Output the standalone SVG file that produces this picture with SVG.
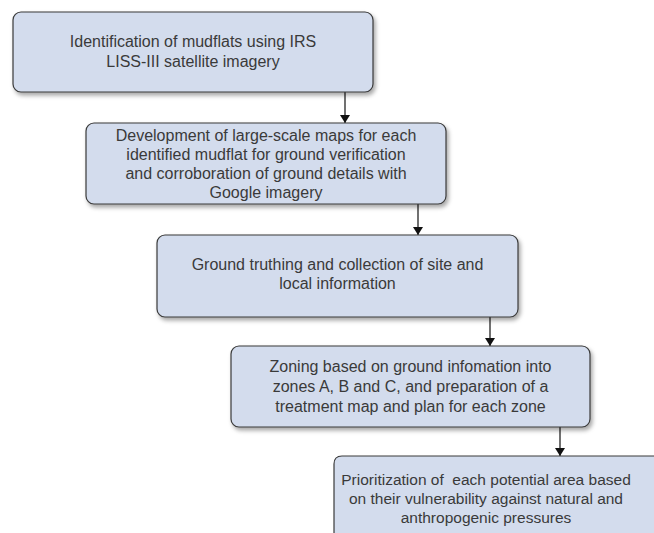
<svg xmlns="http://www.w3.org/2000/svg" width="654" height="533" viewBox="0 0 654 533">
<defs>
<filter id="sh" x="-10%" y="-20%" width="125%" height="150%">
<feDropShadow dx="2" dy="3" stdDeviation="2" flood-color="#000" flood-opacity="0.35"/>
</filter>
<marker id="ah" markerWidth="8" markerHeight="10" refX="8" refY="5" orient="auto" markerUnits="userSpaceOnUse" viewBox="0 0 8 10">
<path d="M0,0 L8,5 L0,10 Z" fill="#111"/>
</marker>
<style>
.box{fill:#d3dced;stroke:#3a3a3a;stroke-width:1.2}
.t{font-family:"Liberation Sans",Arial,sans-serif;font-size:16px;fill:#3a3a3a;text-anchor:middle;white-space:pre}
.t5{font-size:15.5px}
.c{stroke:#111;stroke-width:1.2;fill:none;marker-end:url(#ah)}
</style>
</defs>
<rect width="654" height="533" fill="#fff"/>
<g id="connectors">
<line class="c" x1="345" y1="92" x2="345" y2="123"/>
<line class="c" x1="418" y1="204" x2="418" y2="235"/>
<line class="c" x1="490" y1="317" x2="490" y2="346"/>
<line class="c" x1="560" y1="427" x2="560" y2="456"/>
</g>
<g id="n1">
<rect class="box" x="13" y="12" width="360" height="80" rx="8" filter="url(#sh)"/>
<text class="t" x="193" y="47">Identification of mudflats using IRS</text>
<text class="t" x="193" y="67">LISS-III satellite imagery</text>
</g>
<g id="n2">
<rect class="box" x="86" y="123" width="360" height="81" rx="8" filter="url(#sh)"/>
<text class="t" x="266" y="141">Development of large-scale maps for each</text>
<text class="t" x="266" y="160">identified mudflat for ground verification</text>
<text class="t" x="266" y="179">and corroboration of ground details with</text>
<text class="t" x="266" y="198">Google imagery</text>
</g>
<g id="n3">
<rect class="box" x="157" y="235" width="361" height="82" rx="8" filter="url(#sh)"/>
<text class="t" x="337.5" y="270">Ground truthing and collection of site and</text>
<text class="t" x="337.5" y="289">local information</text>
</g>
<g id="n4">
<rect class="box" x="231" y="346" width="359" height="81" rx="8" filter="url(#sh)"/>
<text class="t" x="410.5" y="372">Zoning based on ground infomation into</text>
<text class="t" x="410.5" y="392">zones A, B and C, and preparation of a</text>
<text class="t" x="410.5" y="412">treatment map and plan for each zone</text>
</g>
<g id="n5">
<path d="M334,540 L334,464 Q334,456 342,456 L660,456 L660,540 Z" class="box"/>
<text class="t t5" x="486" y="485">Prioritization of  each potential area based</text>
<text class="t t5" x="486" y="504">on their vulnerability against natural and</text>
<text class="t t5" x="486" y="523">anthropogenic pressures</text>
</g>
</svg>
